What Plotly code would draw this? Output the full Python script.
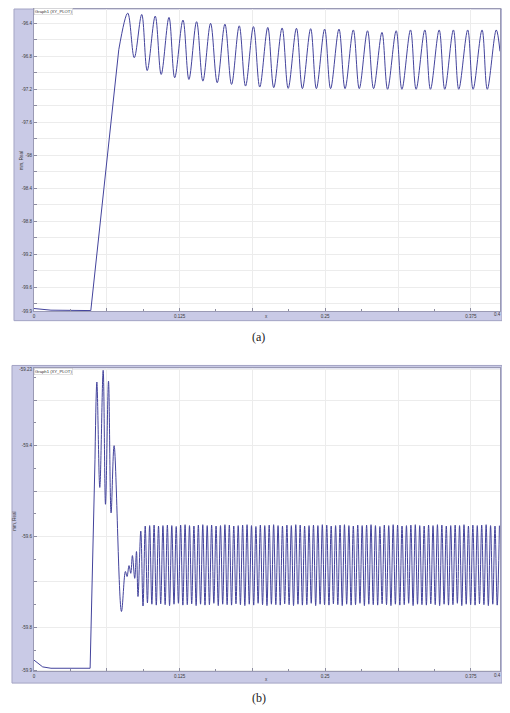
import plotly.graph_objects as go

# the page body has an 8px margin on every side, so the figure is drawn
# 16px smaller and page coordinates are shifted by 8px
PAGE_OFF = 8
W, H = 510 - 2 * PAGE_OFF, 713 - 2 * PAGE_OFF

# ---------------- (a) ----------------
# flat start + straight ramp
a_ramp_x = [0, 0.0146, 0.0488, 0.0728]
a_ramp_y = [-99.86, -99.88, -99.885, -96.72]

# oscillation extrema
a_peak_x = [0.0805, 0.0925, 0.1041, 0.1159, 0.1279, 0.1396, 0.1516, 0.1639, 0.1762,
            0.1884, 0.2007, 0.2130, 0.2253, 0.2375, 0.2495, 0.2618, 0.2741, 0.2863,
            0.2987, 0.3109, 0.3232, 0.3355, 0.3478, 0.3600, 0.3723, 0.3846, 0.3968]
a_peak_y = [-96.276, -96.292, -96.312, -96.328, -96.36, -96.38, -96.40, -96.41, -96.43,
            -96.44, -96.45, -96.456, -96.46, -96.465, -96.47, -96.47, -96.48, -96.49,
            -96.51, -96.49, -96.48, -96.48, -96.48, -96.48, -96.48, -96.48, -96.48]
a_trough_x = [0.0861, 0.0972, 0.1092, 0.1208, 0.1330, 0.1450, 0.1573, 0.1696, 0.1816,
              0.1938, 0.2058, 0.2182, 0.2304, 0.2424, 0.2546, 0.2670, 0.2792, 0.2915,
              0.3035, 0.3158, 0.3280, 0.3403, 0.3526, 0.3646, 0.3769, 0.3891]
a_trough_y = [-96.817, -96.973, -97.02, -97.06, -97.081, -97.101, -97.12, -97.141, -97.161,
              -97.173, -97.18, -97.189, -97.192, -97.192, -97.192, -97.192, -97.192, -97.192,
              -97.2, -97.2, -97.2, -97.2, -97.2, -97.2, -97.2, -97.2]
a_tail_x = [0.4]
a_tail_y = [-96.74]

# ---------------- (b) ----------------
b_ramp_x = [0, 0.0075, 0.0146, 0.0482, 0.0524]
b_ramp_y = [-59.872, -59.887, -59.890, -59.890, -59.43]

# start-up burst before the steady oscillation
b_trans_x = [0.0524, 0.0540, 0.0565, 0.0594, 0.0614, 0.0640, 0.0662, 0.0688, 0.0751,
             0.0785, 0.0799, 0.0816, 0.0831, 0.0845, 0.0865, 0.0880, 0.0893]
b_trans_y = [-59.43, -59.260, -59.492, -59.234, -59.529, -59.258, -59.548, -59.400, -59.765,
             -59.677, -59.688, -59.664, -59.681, -59.642, -59.692, -59.633, -59.732]

b_peak_x = [0.0917, 0.0955, 0.0993, 0.1031, 0.1069, 0.1107, 0.1145, 0.1183, 0.1221, 0.1259,
            0.1297, 0.1335, 0.1373, 0.1411, 0.1449, 0.1487, 0.1525, 0.1563, 0.1601, 0.1639,
            0.1677, 0.1715, 0.1753, 0.1791, 0.1829, 0.1867, 0.1905, 0.1943, 0.1981, 0.2019,
            0.2057, 0.2095, 0.2133, 0.2171, 0.2209, 0.2247, 0.2285, 0.2323, 0.2361, 0.2399,
            0.2437, 0.2475, 0.2513, 0.2551, 0.2589, 0.2627, 0.2665, 0.2703, 0.2741, 0.2779,
            0.2817, 0.2855, 0.2893, 0.2931, 0.2969, 0.3007, 0.3045, 0.3083, 0.3121, 0.3159,
            0.3197, 0.3235, 0.3273, 0.3311, 0.3349, 0.3387, 0.3425, 0.3463, 0.3501, 0.3539,
            0.3577, 0.3615, 0.3653, 0.3691, 0.3729, 0.3767, 0.3805, 0.3843, 0.3881, 0.3919,
            0.3957, 0.3995]
b_peak_y = [-59.588, -59.577, -59.576, -59.575, -59.577, -59.576, -59.575, -59.576, -59.578, -59.575,
            -59.574, -59.576, -59.577, -59.575, -59.574, -59.576, -59.575, -59.577, -59.576, -59.574,
            -59.575, -59.577, -59.576, -59.575, -59.574, -59.576, -59.578, -59.575, -59.576, -59.575,
            -59.574, -59.576, -59.577, -59.575, -59.576, -59.574, -59.575, -59.577, -59.576, -59.575,
            -59.576, -59.574, -59.575, -59.577, -59.576, -59.575, -59.574, -59.576, -59.577, -59.575,
            -59.576, -59.575, -59.574, -59.576, -59.578, -59.575, -59.576, -59.574, -59.575, -59.577,
            -59.576, -59.575, -59.574, -59.576, -59.577, -59.575, -59.576, -59.574, -59.575, -59.577,
            -59.576, -59.575, -59.576, -59.574, -59.577, -59.575, -59.576, -59.575, -59.574, -59.576,
            -59.577, -59.576]
b_trough_x = [0.0936, 0.0974, 0.1012, 0.1050, 0.1088, 0.1126, 0.1164, 0.1202, 0.1240, 0.1278,
              0.1316, 0.1354, 0.1392, 0.1430, 0.1468, 0.1506, 0.1544, 0.1582, 0.1620, 0.1658,
              0.1696, 0.1734, 0.1772, 0.1810, 0.1848, 0.1886, 0.1924, 0.1962, 0.2000, 0.2038,
              0.2076, 0.2114, 0.2152, 0.2190, 0.2228, 0.2266, 0.2304, 0.2342, 0.2380, 0.2418,
              0.2456, 0.2494, 0.2532, 0.2570, 0.2608, 0.2646, 0.2684, 0.2722, 0.2760, 0.2798,
              0.2836, 0.2874, 0.2912, 0.2950, 0.2988, 0.3026, 0.3064, 0.3102, 0.3140, 0.3178,
              0.3216, 0.3254, 0.3292, 0.3330, 0.3368, 0.3406, 0.3444, 0.3482, 0.3520, 0.3558,
              0.3596, 0.3634, 0.3672, 0.3710, 0.3748, 0.3786, 0.3824, 0.3862, 0.3900, 0.3938,
              0.3976]
b_trough_y = [-59.753, -59.746, -59.749, -59.751, -59.748, -59.750, -59.752, -59.749, -59.747, -59.751,
              -59.750, -59.748, -59.752, -59.749, -59.751, -59.750, -59.747, -59.752, -59.749, -59.750,
              -59.751, -59.748, -59.750, -59.752, -59.749, -59.751, -59.747, -59.750, -59.752, -59.749,
              -59.750, -59.751, -59.748, -59.750, -59.752, -59.749, -59.751, -59.750, -59.747, -59.752,
              -59.749, -59.750, -59.751, -59.748, -59.750, -59.752, -59.749, -59.751, -59.750, -59.747,
              -59.752, -59.749, -59.750, -59.751, -59.748, -59.750, -59.752, -59.749, -59.751, -59.750,
              -59.747, -59.752, -59.749, -59.750, -59.751, -59.748, -59.750, -59.752, -59.749, -59.751,
              -59.750, -59.747, -59.752, -59.749, -59.750, -59.751, -59.748, -59.750, -59.752, -59.749,
              -59.751]

# ---------------- ticks ----------------
x_tick_vals = [0, 0.0625, 0.125, 0.1875, 0.25, 0.3125, 0.375, 0.4]
x_tick_text = ['0', '', '0.125', '', '0.25', '', '0.375', '']
x_end_label = '0.4'
x_minor_vals = [0.03125, 0.09375, 0.15625, 0.21875, 0.28125, 0.34375]

a_y_vals = [-99.89, -99.8, -99.6, -99.4, -99.2, -99.0, -98.8, -98.6, -98.4, -98.2, -98.0,
            -97.8, -97.6, -97.4, -97.2, -97.0, -96.8, -96.6, -96.4, -96.235]
a_y_text = ['-99.9', '', '-99.6', '', '-99.2', '', '-98.8', '', '-98.4', '', '-98',
            '', '-97.6', '', '-97.2', '', '-96.8', '', '-96.4', '-96.22']

b_y_vals = [-59.894, -59.8, -59.7, -59.6, -59.5, -59.4, -59.3, -59.233]
b_y_text = ['-59.9', '-59.8', '', '-59.6', '', '-59.4', '', '-59.23']
b_y_minor = [-59.85, -59.75, -59.65, -59.55, -59.45, -59.35, -59.25]

LINE = '#43439c'
FRAME = '#c9cae6'
FRAME_EDGE = '#a4a4c4'
TICKFONT = dict(family='Liberation Sans', size=4.5, color='#3a3a3a')


def zigzag(px, py, tx, ty):
    xs, ys = [], []
    for i in range(len(px)):
        xs.append(px[i])
        ys.append(py[i])
        if i < len(tx):
            xs.append(tx[i])
            ys.append(ty[i])
    return xs, ys


# page pixel -> paper fraction (clamped to the figure)
def pxx(v):
    return min(max((v - PAGE_OFF) / W, 0), 1)


def pxy(v):
    return min(max(1 - (v - PAGE_OFF) / H, 0), 1)


fig = go.Figure()

# (a)
fig.add_trace(go.Scatter(x=a_ramp_x, y=a_ramp_y, mode='lines',
                         line=dict(color=LINE, width=1), xaxis='x', yaxis='y'))
ax, ay = zigzag(a_peak_x, a_peak_y, a_trough_x, a_trough_y)
fig.add_trace(go.Scatter(x=[a_ramp_x[-1]] + ax + a_tail_x, y=[a_ramp_y[-1]] + ay + a_tail_y,
                         mode='lines', line=dict(color=LINE, width=1, shape='spline'),
                         xaxis='x', yaxis='y'))

# (b)
fig.add_trace(go.Scatter(x=b_ramp_x, y=b_ramp_y, mode='lines',
                         line=dict(color=LINE, width=1), xaxis='x2', yaxis='y2'))
bx, by = zigzag(b_peak_x, b_peak_y, b_trough_x, b_trough_y)
fig.add_trace(go.Scatter(x=b_trans_x + bx, y=b_trans_y + by, mode='lines',
                         line=dict(color=LINE, width=1, shape='spline'),
                         xaxis='x2', yaxis='y2'))


def x_axis(anchor):
    return dict(domain=[pxx(33), pxx(500)], anchor=anchor, range=[0, 0.4],
                tickmode='array', tickvals=x_tick_vals, ticktext=x_tick_text,
                ticks='inside', ticklen=3, tickcolor='#8c8ca0', tickfont=TICKFONT,
                showgrid=True, gridcolor='#ececec', gridwidth=1,
                showline=True, linecolor='#9a9ab4', mirror=True, zeroline=False,
                minor=dict(tickvals=x_minor_vals, ticks='inside', ticklen=2,
                           tickcolor='#8c8ca0', showgrid=False))


def y_axis(anchor, dom, rng, vals, text, minor=None):
    d = dict(domain=dom, anchor=anchor, range=rng,
             tickmode='array', tickvals=vals, ticktext=text,
             ticks='inside', ticklen=3, tickcolor='#8c8ca0', tickfont=TICKFONT,
             showgrid=True, gridcolor='#ececec', gridwidth=1,
             showline=True, linecolor='#9a9ab4', mirror=True, zeroline=False)
    if minor:
        d['minor'] = dict(tickvals=minor, ticks='inside', ticklen=2,
                          tickcolor='#8c8ca0', showgrid=False)
    return d


top_dom = [pxy(311.7), pxy(8.5)]
bot_dom = [pxy(673.3), pxy(369)]

fig.update_layout(
    width=W, height=H, margin=dict(l=0, r=0, t=0, b=0),
    paper_bgcolor='white', plot_bgcolor='white', showlegend=False,
    xaxis=x_axis('y'),
    yaxis=y_axis('x', top_dom, [-99.895, -96.232], a_y_vals, a_y_text),
    xaxis2=x_axis('y2'),
    yaxis2=y_axis('x2', bot_dom, [-59.897, -59.23], b_y_vals, b_y_text, b_y_minor),
)

# lavender frames and white plot areas
for (x0, y0, x1, y1), dom in [((13, 4, 503, 321), top_dom), ((11, 366, 502, 685), bot_dom)]:
    fig.add_shape(type='rect', xref='paper', yref='paper', layer='below',
                  x0=pxx(x0), x1=pxx(x1), y0=pxy(y1), y1=pxy(y0),
                  fillcolor=FRAME, line=dict(color=FRAME_EDGE, width=1))
    fig.add_shape(type='rect', xref='paper', yref='paper', layer='below',
                  x0=pxx(33), x1=pxx(500), y0=dom[0], y1=dom[1],
                  fillcolor='white', line=dict(width=0))


def label(text, x, y, font, **kw):
    fig.add_annotation(text=text, x=pxx(x), y=pxy(y), xref='paper', yref='paper',
                       xanchor=kw.pop('xanchor', 'center'), yanchor='middle',
                       showarrow=False, font=font, **kw)


small = dict(family='Liberation Sans', size=4.5, color='#3a3a3a')
panels = [(0, '(a)', 337, 317.3, 20, 314.5, 10.3), (362, '(b)', 700, 681.5, 14, 677.5, 372)]
for dy, cap, cap_y, xt_y, ylab_x, tl_y, g_y in panels:
    label(cap, 258.5, cap_y, dict(family='Liberation Serif', size=12, color='#222'))
    label('x', 266, xt_y, small)
    label(x_end_label, 497, tl_y, TICKFONT)
    label('mm, Real', ylab_x, 160 + dy, small, textangle=-90)
    label('Graph1 (XY_PLOT)', 33.5, g_y, dict(family='Liberation Sans', size=4.2, color='#333'),
          xanchor='left', bgcolor='white', bordercolor='#c4c4c4', borderwidth=0.5, borderpad=0.5)

fig.write_html("out.html")
